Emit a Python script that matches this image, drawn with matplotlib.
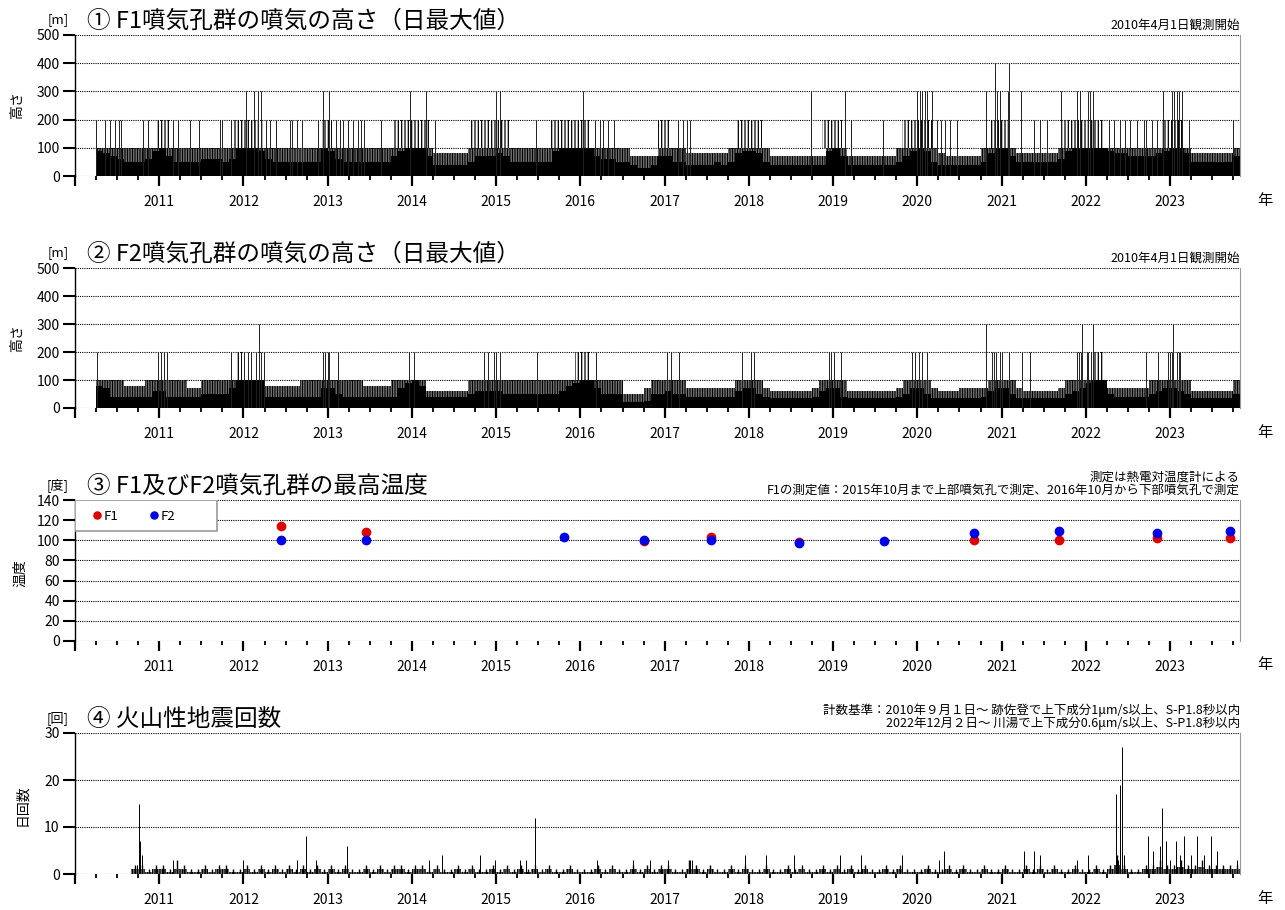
import matplotlib
matplotlib.use("Agg")
import matplotlib.pyplot as plt
from matplotlib.patches import Rectangle

plt.rcParams['font.family'] = ['Noto Sans CJK JP', 'DejaVu Sans']
plt.rcParams['hatch.linewidth'] = 0.9
plt.rcParams['hatch.color'] = 'black'

W, H = 1285, 910

# ---- ① F1: monthly solid level / reach level (2010-04 .. 2023-10) ----
p1_lo = [90, 80, 70, 60, 50, 50, 50, 60, 90,
         100, 70, 50, 50, 50, 50, 60, 60, 60, 50, 60, 100,
         100, 100, 90, 60, 50, 50, 50, 50, 50, 50, 50, 100,
         90, 60, 50, 50, 50, 50, 50, 50, 50, 70, 90, 100,
         100, 100, 70, 40, 40, 40, 40, 40, 50, 70, 70, 70,
         80, 70, 50, 50, 50, 50, 50, 50, 90, 100, 100, 100,
         100, 100, 70, 60, 60, 50, 50, 40, 30, 30, 40, 70,
         70, 50, 50, 40, 40, 40, 40, 50, 40, 50, 80, 90,
         90, 80, 50, 40, 40, 40, 40, 40, 40, 40, 40, 90,
         100, 70, 40, 40, 40, 40, 40, 40, 40, 50, 70, 90,
         100, 90, 50, 40, 40, 40, 40, 40, 40, 50, 80, 100,
         100, 70, 50, 50, 50, 50, 50, 50, 60, 90, 100, 100,
         100, 100, 100, 90, 80, 80, 70, 70, 70, 70, 80, 90,
         100, 100, 80, 50, 50, 50, 50, 50, 50, 70]
p1_hi = [100, 100, 100, 100, 100, 100, 100, 100, 100,
         100, 100, 100, 100, 100, 100, 100, 100, 100, 100, 100, 100,
         100, 100, 100, 100, 100, 100, 100, 100, 100, 100, 100, 100,
         100, 100, 100, 100, 100, 100, 100, 100, 100, 100, 100, 100,
         100, 100, 100, 80, 80, 80, 80, 80, 100, 100, 100, 100,
         100, 100, 100, 100, 100, 100, 100, 100, 100, 100, 100, 100,
         100, 100, 100, 100, 100, 100, 100, 70, 70, 70, 70, 100,
         100, 100, 100, 80, 80, 80, 80, 80, 80, 100, 100, 100,
         100, 100, 100, 70, 70, 70, 70, 70, 70, 70, 70, 100,
         100, 100, 70, 70, 70, 70, 70, 70, 70, 100, 100, 100,
         100, 100, 100, 80, 70, 70, 70, 70, 70, 100, 100, 100,
         100, 100, 80, 80, 80, 80, 80, 80, 100, 100, 100, 100,
         100, 100, 100, 100, 100, 100, 100, 100, 100, 100, 100, 100,
         100, 100, 100, 80, 80, 80, 80, 80, 80, 100]
p1_cluster_start = [2010.97, 2011.89, 2012.93, 2013.77, 2014.70, 2015.65, 2016.92,
                    2017.85, 2018.87, 2019.82, 2020.85, 2021.71, 2022.90]
p1_cluster_end = [2011.13, 2012.24, 2013.05, 2014.22, 2015.17, 2016.12, 2017.06,
                  2018.16, 2019.11, 2020.17, 2021.10, 2022.21, 2023.16]
p1_200 = [2010.25, 2010.36, 2010.41, 2010.47, 2010.52, 2010.55, 2010.81, 2010.87,
          2011.16, 2011.22, 2011.37, 2011.47, 2011.72, 2011.75, 2011.85,
          2012.27, 2012.31, 2012.39, 2012.55, 2012.58, 2012.64, 2012.70, 2012.88,
          2013.10, 2013.14, 2013.18, 2013.24, 2013.30, 2013.36, 2013.40, 2013.43, 2013.63,
          2014.27, 2015.47, 2016.17, 2016.23, 2016.27, 2016.33, 2016.40,
          2017.16, 2017.22, 2017.27, 2017.30, 2019.21, 2019.59,
          2020.23, 2020.28, 2020.33, 2020.39, 2020.47, 2021.38, 2021.46, 2021.54,
          2022.27, 2022.33, 2022.41, 2022.47, 2022.53, 2022.61, 2022.69, 2022.72,
          2022.78, 2022.84, 2023.22, 2023.75]
p1_300 = [2012.03, 2012.13, 2012.17, 2012.21, 2012.94, 2013.02, 2013.98, 2014.17,
          2015.00, 2015.05, 2016.03, 2018.74, 2019.14, 2019.99, 2020.03, 2020.06,
          2020.09, 2020.12, 2020.17, 2020.81, 2020.95, 2020.98, 2021.07, 2021.23,
          2021.71, 2021.89, 2021.93, 2022.03, 2022.05, 2022.08, 2022.92, 2023.02,
          2023.05, 2023.08, 2023.10, 2023.14]
p1_400 = [2020.92, 2021.09]

# ---- ② F2 ----
p2_lo = [80, 70, 40, 40, 40, 40, 40, 40, 60,
         60, 40, 40, 40, 40, 40, 50, 50, 50, 50, 70, 100,
         100, 100, 100, 40, 40, 40, 40, 40, 40, 40, 40, 70,
         70, 50, 40, 40, 40, 40, 40, 40, 40, 40, 70, 90,
         100, 80, 40, 40, 40, 40, 40, 40, 50, 60, 60, 60,
         60, 50, 50, 50, 50, 50, 50, 50, 50, 60, 80, 90,
         100, 100, 70, 50, 50, 50, 20, 20, 20, 25, 50, 50,
         60, 50, 50, 40, 40, 40, 40, 40, 40, 40, 60, 70,
         70, 50, 40, 35, 35, 35, 35, 35, 35, 40, 60, 70,
         70, 40, 35, 35, 35, 35, 35, 35, 35, 40, 50, 70,
         70, 50, 35, 35, 35, 35, 35, 35, 35, 40, 60, 70,
         70, 50, 35, 35, 35, 35, 35, 35, 35, 50, 60, 70,
         90, 100, 100, 50, 40, 40, 40, 40, 40, 50, 60, 70,
         70, 60, 50, 35, 35, 35, 35, 35, 35, 50]
p2_hi = [100, 100, 100, 100, 80, 80, 80, 100, 100,
         100, 100, 100, 100, 70, 70, 100, 100, 100, 100, 100, 100,
         100, 100, 100, 80, 80, 80, 80, 80, 100, 100, 100, 100,
         100, 100, 100, 100, 100, 80, 80, 80, 80, 100, 100, 100,
         100, 100, 60, 60, 60, 60, 60, 60, 100, 100, 100, 100,
         100, 100, 100, 100, 100, 100, 100, 100, 100, 100, 100, 100,
         100, 100, 100, 100, 100, 100, 50, 50, 50, 70, 100, 100,
         100, 100, 100, 70, 70, 70, 70, 70, 70, 70, 100, 100,
         100, 100, 70, 60, 60, 60, 60, 60, 60, 70, 100, 100,
         100, 100, 60, 60, 60, 60, 60, 60, 60, 70, 100, 100,
         100, 100, 70, 60, 60, 60, 70, 70, 70, 70, 100, 100,
         100, 100, 70, 60, 60, 60, 60, 60, 70, 100, 100, 100,
         100, 100, 100, 70, 70, 70, 70, 70, 70, 100, 100, 100,
         100, 100, 100, 60, 60, 60, 60, 60, 60, 100]
p2_cluster_start = [2011.91, 2015.94, 2022.09]
p2_cluster_end = [2011.98, 2016.11, 2022.21]
p2_200 = [2010.26, 2010.99, 2011.02, 2011.06, 2011.09, 2011.85, 2012.01, 2012.05,
          2012.09, 2012.15, 2012.21, 2012.24, 2012.94, 2012.97, 2013.00, 2013.02,
          2013.12, 2013.97, 2014.03, 2014.85, 2014.90, 2014.97, 2015.00, 2015.04,
          2015.48, 2016.18, 2017.03, 2017.07, 2017.17, 2017.92, 2018.02, 2018.06,
          2018.95, 2018.98, 2019.01, 2019.09, 2019.94, 2019.97, 2020.02, 2020.06,
          2020.12, 2020.89, 2020.91, 2020.93, 2020.98, 2021.01, 2021.09, 2021.24,
          2021.34, 2021.90, 2021.92, 2021.94, 2022.01, 2022.03, 2022.06, 2022.71,
          2022.86, 2022.98, 2023.00, 2023.02, 2023.08, 2023.10, 2023.12]
p2_300 = [2012.18, 2020.81, 2021.96, 2022.08, 2023.04]

# ---- ③ temperatures ----
f1_year = [2012.44, 2013.45, 2016.76, 2017.55, 2018.59, 2020.67, 2021.68, 2022.84, 2023.71]
f1_temp = [114, 108, 99, 103, 98, 100, 100, 102, 102]
f2_year = [2012.44, 2013.45, 2015.81, 2016.76, 2017.55, 2018.59, 2019.60, 2020.67,
           2021.68, 2022.84, 2023.71]
f2_temp = [100, 100, 103, 100, 100, 97, 99, 107, 109, 107, 109]

# ---- ④ earthquakes: monthly band / typical max (2010-09 .. 2023-10) + notable days ----
p4_band = [1, 1, 0.5, 1,
           1, 0.5, 1, 1, 0.5, 0.5, 1, 0.5, 1, 1, 0.5, 0.5,
           1, 0.5, 1, 0.5, 1, 0.5, 1, 0.5, 1, 0.5, 1, 0.5,
           1, 0.5, 1, 0.5, 0.5, 1, 0.5, 1, 0.5, 1, 1, 0.5,
           1, 1, 0.5, 1, 0.5, 0.5, 1, 0.5, 1, 0.5, 0.5, 1,
           0.5, 1, 0.5, 1, 0.5, 1, 0.5, 1, 0.5, 0.5, 1, 0.5,
           0.5, 0.5, 1, 0.5, 1, 0.5, 0.5, 1, 0.5, 1, 0.5, 1,
           1, 0.5, 0.5, 1, 1, 0.5, 1, 0.5, 0.5, 1, 0.5, 1,
           0.5, 0.5, 1, 0.5, 0.5, 1, 0.5, 1, 0.5, 0.5, 1, 0.5,
           1, 0.5, 1, 0.5, 1, 0.5, 0.5, 1, 0.5, 1, 0.5, 0.5,
           0.5, 1, 0.5, 0.5, 1, 0.5, 1, 0.5, 0.5, 1, 0.5, 0.5,
           1, 0.5, 0.5, 1, 0.5, 1, 0.5, 1, 0.5, 0.5, 1, 0.5,
           0.5, 1, 0.5, 1, 2, 1, 0.5, 0.5, 1, 1, 1.5, 1,
           1, 1.5, 1, 1, 1.5, 1, 1, 1, 1, 1]
p4_base = [2, 2, 1, 2,
           2, 1, 3, 2, 1, 1, 2, 1, 2, 2, 1, 1,
           2, 1, 2, 1, 2, 1, 2, 1, 2, 1, 2, 1,
           2, 1, 2, 1, 1, 2, 1, 2, 1, 2, 2, 1,
           2, 2, 1, 2, 1, 1, 2, 1, 2, 1, 1, 2,
           1, 2, 1, 2, 1, 2, 1, 2, 1, 1, 2, 1,
           1, 1, 2, 1, 2, 1, 1, 2, 1, 2, 1, 2,
           2, 1, 1, 3, 2, 1, 2, 1, 1, 2, 1, 2,
           1, 1, 2, 1, 1, 2, 1, 2, 1, 1, 2, 1,
           2, 1, 2, 1, 2, 1, 1, 2, 1, 2, 1, 1,
           1, 2, 1, 1, 2, 1, 2, 1, 1, 2, 1, 1,
           2, 1, 1, 2, 1, 2, 1, 2, 1, 1, 2, 1,
           1, 2, 1, 2, 4, 2, 1, 1, 2, 2, 3, 2,
           2, 3, 2, 2, 3, 2, 2, 2, 2, 2]
eq_year = [2010.74, 2010.76, 2010.77, 2010.79, 2011.16, 2011.99, 2012.63, 2012.74,
           2012.86, 2013.23, 2014.20, 2014.36, 2014.81, 2014.98, 2015.28, 2015.35,
           2015.46, 2016.20, 2016.62, 2016.83, 2017.04, 2017.30, 2017.33, 2017.95,
           2018.20, 2018.54, 2019.08, 2019.33, 2019.82, 2020.26, 2020.32, 2021.27,
           2021.39, 2021.45, 2021.89, 2022.03, 2022.36, 2022.38, 2022.40, 2022.41,
           2022.43, 2022.45, 2022.74, 2022.80, 2022.88, 2022.90, 2022.95, 2023.00,
           2023.07, 2023.12, 2023.17, 2023.25, 2023.32, 2023.40, 2023.49, 2023.56,
           2023.79]
eq_count = [2, 15, 7, 4, 3, 3, 3, 8,
            3, 6, 3, 4, 4, 3, 3, 3,
            12, 3, 3, 3, 3, 3, 3, 4,
            4, 4, 4, 4, 4, 3, 5, 5,
            5, 4, 3, 4, 17, 3, 19, 5,
            27, 4, 8, 5, 6, 14, 7, 3,
            7, 4, 8, 4, 8, 4, 8, 5,
            3]

years = list(range(2010, 2024))
year_labels = [''] + [str(y) for y in years[1:]]
HATCH = '|' * 10
HATCH_SPARSE = '|' * 5

fig = plt.figure(figsize=(W / 100, H / 100), dpi=100)


def make_ax(top_px, bottom_px):
    ax = fig.add_axes([75 / W, 1 - bottom_px / H, 1165 / W, (bottom_px - top_px) / H])
    ax.set_xlim(2010.0, 2023.83)
    ax.spines['top'].set_visible(False)
    ax.spines['bottom'].set_visible(False)
    ax.spines['right'].set_color('#999999')
    ax.spines['right'].set_linewidth(0.8)
    ax.spines['left'].set_linewidth(1.0)
    ax.set_xticks(years)
    ax.set_xticklabels(year_labels)
    ax.set_xticks([y + q / 4 for y in years for q in (1, 2, 3)], minor=True)
    ax.tick_params(axis='x', which='major', direction='out', length=7.5, width=1.6,
                   labelsize=10, pad=6)
    ax.tick_params(axis='x', which='minor', direction='out', length=3, width=1.3)
    ax.tick_params(axis='y', direction='out', length=9, width=1.5, labelsize=10, pad=2)
    ax.yaxis.grid(True, linestyle=(0, (1, 1)), color='black', linewidth=0.8)
    ax.set_axisbelow(True)
    return ax


def header(top_px, num_title, unit, note_lines):
    fig.text(87 / W, 1 - (top_px - 14) / H, num_title, fontsize=17, va='center', ha='left')
    fig.text(69 / W, 1 - (top_px - 15) / H, unit, fontsize=9.5, va='center', ha='right')
    for i, line in enumerate(note_lines):
        fig.text(1240 / W, 1 - (top_px - 10 - 13 * (len(note_lines) - 1 - i)) / H, line,
                 fontsize=9, va='center', ha='right')


def plume_panel(ax, lo, hi, cl_start, cl_end, s200, s300, s400):
    left = [2010.25 + i / 12 for i in range(len(lo))]
    ax.bar(left, lo, width=1 / 12, align='edge', color='black', linewidth=0)
    ax.bar(left, [h - l for h, l in zip(hi, lo)], bottom=lo, width=1 / 12, align='edge',
           facecolor='none', edgecolor='black', hatch=HATCH, linewidth=0)
    ax.bar(cl_start, [100] * len(cl_start), bottom=100,
           width=[e - s for s, e in zip(cl_start, cl_end)], align='edge',
           facecolor='none', edgecolor='black', hatch=HATCH_SPARSE, linewidth=0)
    ax.vlines(s200, 0, 200, color='#222222', linewidth=0.7)
    ax.vlines(s300, 0, 300, color='#222222', linewidth=0.7)
    ax.vlines(s400, 0, 400, color='#222222', linewidth=0.7)
    ax.set_ylim(0, 500)
    ax.set_yticks([0, 100, 200, 300, 400, 500])


def ylabel(x_px, y_px, text):
    fig.text(x_px / W, 1 - y_px / H, text, rotation=90, fontsize=10, va='center', ha='center')


# panel 1
ax1 = make_ax(35, 176)
plume_panel(ax1, p1_lo, p1_hi, p1_cluster_start, p1_cluster_end, p1_200, p1_300, p1_400)
header(35, '① F1噴気孔群の噴気の高さ（日最大値）', '[m]', ['2010年4月1日観測開始'])
ylabel(17, 105, '高さ')

# panel 2
ax2 = make_ax(268, 408)
plume_panel(ax2, p2_lo, p2_hi, p2_cluster_start, p2_cluster_end, p2_200, p2_300, [])
header(268, '② F2噴気孔群の噴気の高さ（日最大値）', '[m]', ['2010年4月1日観測開始'])
ylabel(17, 338, '高さ')

# panel 3
ax3 = make_ax(500, 641)
ax3.plot(f1_year, f1_temp, 'o', color='#e00000', markersize=6, linestyle='none', label='F1')
ax3.plot(f2_year, f2_temp, 'o', color='#0000e6', markersize=6, linestyle='none', label='F2')
ax3.set_ylim(0, 140)
ax3.set_yticks(range(0, 141, 20))
ax3.add_patch(Rectangle((0, 1 - 31 / 141), 142 / 1165, 31 / 141, transform=ax3.transAxes,
                        facecolor='white', edgecolor='#999999', linewidth=1.2, zorder=4))
ax3.legend(loc='center left', bbox_to_anchor=(17 / 1165, 1 - 16 / 141), frameon=False,
           ncol=2, fontsize=9.5, borderaxespad=0, borderpad=0, handlelength=0.7,
           handletextpad=0.2, columnspacing=2.3, markerscale=0.85).set_zorder(5)
header(500, '③ F1及びF2噴気孔群の最高温度', '[度]',
       ['測定は熱電対温度計による',
        'F1の測定値：2015年10月まで上部噴気孔で測定、2016年10月から下部噴気孔で測定'])
ylabel(20, 573, '温度')

# panel 4
ax4 = make_ax(733, 874)
left4 = [2010 + 8 / 12 + i / 12 for i in range(len(p4_band))]
ax4.bar(left4, p4_band, width=1 / 12, align='edge', facecolor='none', edgecolor='black',
        hatch=HATCH, linewidth=0)
mid = [x + 1 / 24 for x in left4]
ax4.vlines(mid, 0, p4_base, color='black', linewidth=1.0)
ax4.vlines(eq_year, 0, eq_count, color='black', linewidth=0.7)
ax4.set_ylim(0, 30)
ax4.set_yticks([0, 10, 20, 30])
header(733, '④ 火山性地震回数', '[回]',
       ['計数基準：2010年９月１日～ 跡佐登で上下成分1μm/s以上、S-P1.8秒以内',
        '2022年12月２日～ 川湯で上下成分0.6μm/s以上、S-P1.8秒以内'])
ylabel(22, 805, '日回数')

for ybase in (176, 408, 641, 874):
    fig.text(1265 / W, 1 - (ybase + 24) / H, '年', fontsize=11, va='center', ha='center')

fig.savefig('out.png', dpi=100)
